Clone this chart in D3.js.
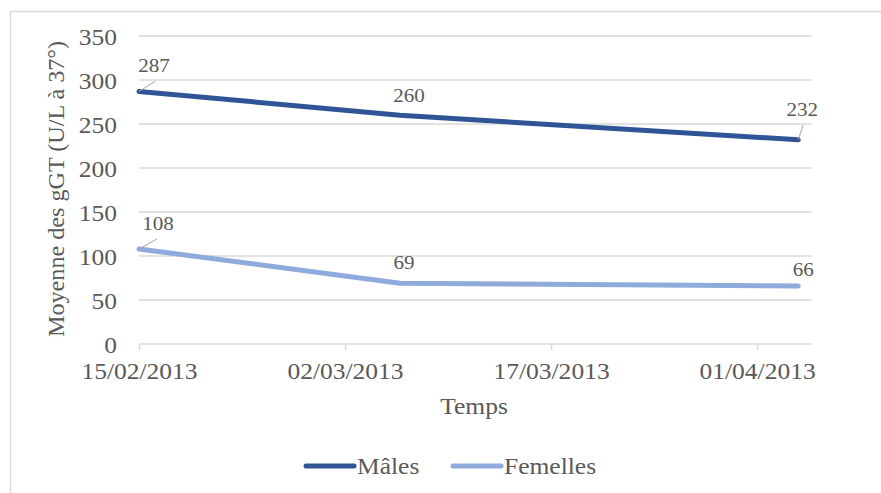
<!DOCTYPE html>
<html>
<head>
<meta charset="utf-8">
<script src="https://cdn.jsdelivr.net/npm/d3@7/dist/d3.min.js"></script>
<style>
  html, body { margin: 0; padding: 0; background: #fff; }
  svg { display: block; }
  text { font-family: "Liberation Serif", "Times New Roman", serif; fill: #595959; }
</style>
</head>
<body>
<svg id="chart" width="881" height="493"></svg>
<script>
// ---- data ----
const dates = ["2013-02-15", "2013-03-06", "2013-04-04"];
const males = [287, 260, 232];
const femelles = [108, 69, 66];
const seriesNames = ["Mâles", "Femelles"];
const seriesColors = ["#2F5597", "#8FAADC"];
const xTickLabels = ["15/02/2013", "02/03/2013", "17/03/2013", "01/04/2013"];
const yTicks = [0, 50, 100, 150, 200, 250, 300, 350];
const yTitle = "Moyenne des gGT (U/L à 37°)";
const xTitle = "Temps";

const parse = d3.timeParse("%Y-%m-%d");
const fmtIn = d3.timeParse("%d/%m/%Y");
const SX = 1.11; // horizontal text stretch seen in the reference

const svg = d3.select("#chart");

// stretched text helper
function addText(parent, px, py, str, size, anchor) {
  return parent.append("text")
    .attr("transform", `translate(${px},${py}) scale(${SX},1)`)
    .attr("text-anchor", anchor || "middle").attr("font-size", size).text(str);
}

// outer border
svg.append("rect").attr("x", 10.5).attr("y", 11.5).attr("width", 900).attr("height", 500)
  .attr("fill", "none").attr("stroke", "#d9d9d9").attr("stroke-width", 1.5);

const plot = { left: 139, right: 812, top: 36, bottom: 344 };

const x = d3.scaleTime()
  .domain([parse("2013-02-15"), parse("2013-04-05")])
  .range([plot.left, plot.right]);
const y = d3.scaleLinear().domain([0, 350]).range([plot.bottom, plot.top]);

// gridlines
svg.append("g").selectAll("line").data(yTicks.filter(v => v > 0)).join("line")
  .attr("x1", plot.left).attr("x2", plot.right)
  .attr("y1", d => y(d)).attr("y2", d => y(d))
  .attr("stroke", "#d9d9d9").attr("stroke-width", 1.5);

// y axis labels
const yAxis = d3.axisLeft(y).tickValues(yTicks).tickSize(0).tickPadding(0);
const gy = svg.append("g").attr("transform", `translate(${plot.left - 22},0)`).call(yAxis);
gy.select(".domain").remove();
gy.selectAll("text").attr("font-size", 23).attr("fill", "#595959")
  .attr("font-family", "Liberation Serif").attr("dy", "0.35em")
  .attr("transform", `scale(${SX},1)`);

// x axis
const xTickDates = xTickLabels.map(s => fmtIn(s));
const xAxis = d3.axisBottom(x).tickValues(xTickDates)
  .tickFormat(d => d3.timeFormat("%d/%m/%Y")(d)).tickSize(6).tickSizeOuter(0).tickPadding(13);
const gx = svg.append("g").attr("transform", `translate(0,${plot.bottom})`).call(xAxis);
gx.select(".domain").attr("stroke", "#d9d9d9").attr("stroke-width", 1.5)
  .attr("d", `M${plot.left},0H${plot.right}`);
gx.selectAll(".tick line").attr("stroke", "#d9d9d9").attr("stroke-width", 1.5);
gx.selectAll("text").attr("font-size", 23).attr("fill", "#595959")
  .attr("font-family", "Liberation Serif").attr("transform", `scale(${SX},1)`);

// axis titles
addText(svg, 474, 414, xTitle, 23);
svg.append("text").attr("transform", `translate(64,189) rotate(-90) scale(1.05,1)`)
  .attr("text-anchor", "middle").attr("font-size", 23).text(yTitle);

// lines
const allSeries = [males, femelles];
const line = d3.line().x((d, i) => x(parse(dates[i]))).y(d => y(d));
allSeries.forEach((vals, s) => {
  svg.append("path").datum(vals).attr("d", line)
    .attr("fill", "none").attr("stroke", seriesColors[s]).attr("stroke-width", 5)
    .attr("stroke-linecap", "round").attr("stroke-linejoin", "round");
});

// data labels (offsets relative to point)
const labelOffsets = [
  [[15, -19], [9, -13], [4, -24]],
  [[19, -19], [4, -14], [5, -10]]
];
const leaders = [
  [[16, -10], null, [5, -15]],
  [[18, -10], null, null]
];
allSeries.forEach((vals, s) => {
  vals.forEach((v, i) => {
    const px = x(parse(dates[i])), py = y(v);
    const off = labelOffsets[s][i];
    addText(svg, px + off[0], py + off[1], v, 19);
    const ld = leaders[s][i];
    if (ld) {
      svg.append("line").attr("x1", px).attr("y1", py).attr("x2", px + ld[0]).attr("y2", py + ld[1])
        .attr("stroke", "#a6a6a6").attr("stroke-width", 1);
    }
  });
});

// legend
const legendItems = [
  { name: seriesNames[0], color: seriesColors[0], x: 306 },
  { name: seriesNames[1], color: seriesColors[1], x: 453 }
];
legendItems.forEach(it => {
  svg.append("line").attr("x1", it.x).attr("x2", it.x + 48).attr("y1", 466).attr("y2", 466)
    .attr("stroke", it.color).attr("stroke-width", 5).attr("stroke-linecap", "round");
  addText(svg, it.x + 51, 474, it.name, 23, "start");
});
</script>
</body>
</html>
